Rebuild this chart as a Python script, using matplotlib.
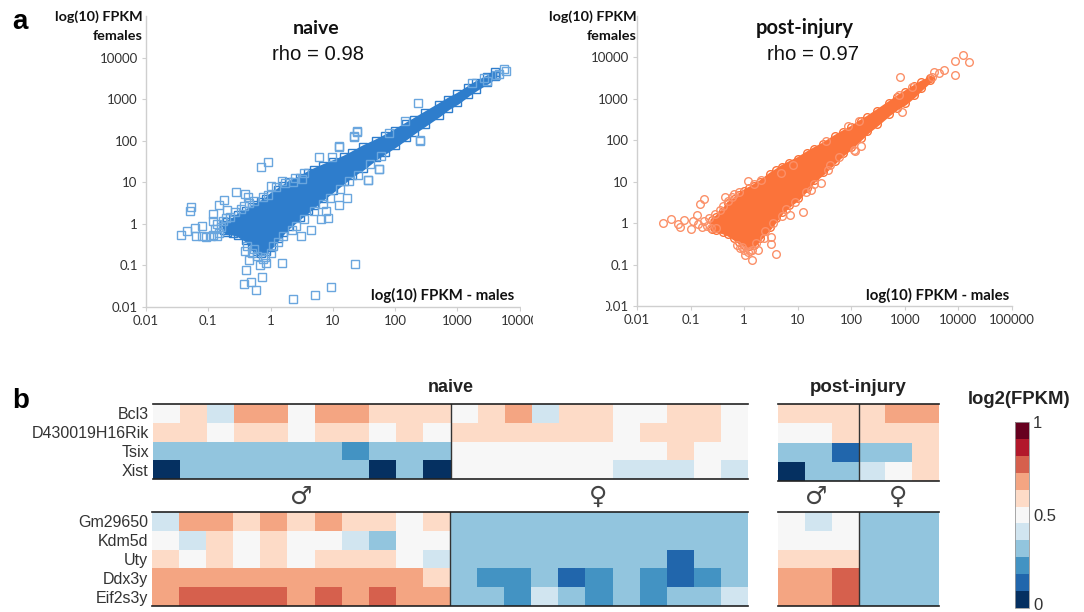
import numpy as np
import matplotlib
matplotlib.use('Agg')
import matplotlib.pyplot as plt
from matplotlib.colors import ListedColormap, Normalize
from matplotlib.cm import ScalarMappable
from matplotlib.patches import Rectangle

W, H = 1084, 612

# scatter a: dense cloud envelope (x, lower y, upper y)
naive_x = [0.18, 0.2, 0.25, 0.3, 0.4, 0.5, 0.6, 0.7, 0.85, 1, 1.3, 1.6, 2, 3, 4, 5, 7, 10, 15, 20, 30, 50, 70,
           100, 150, 200, 300, 500, 700, 1000, 1500, 2000, 3000, 4000]
naive_low = [0.70, 0.62, 0.60, 0.55, 0.42, 0.30, 0.22, 0.20, 0.22, 0.28, 0.45, 0.65, 0.9, 1.5, 2.1, 2.8, 4.3, 6.5,
             10.5, 15, 22, 40, 55, 78, 120, 165, 250, 420, 620, 850, 1350, 1800, 2600, 3600]
naive_high = [0.95, 1.1, 1.3, 1.6, 2.0, 2.5, 2.9, 3.3, 4, 5, 6.5, 8, 10, 13, 17, 20, 25, 31, 40, 50, 70, 100, 130,
              175, 250, 320, 460, 720, 980, 1300, 1900, 2500, 3400, 4400]
naive_out_x = [0.036, 0.045, 0.051, 0.052, 0.062, 0.063, 0.08, 0.08, 0.092, 0.118, 0.146, 0.18, 0.2, 0.28, 0.39,
               0.43, 0.70, 0.91, 1.0, 0.91, 1.5, 2.3, 3.2, 6.1, 9.6, 12.6, 22, 24.6, 0.39, 0.45, 0.41, 0.74, 0.48,
               0.38, 0.58, 2.25, 5.1, 9.3, 23, 1.5, 0.84, 0.68, 3.1, 4.4, 6.4, 8.3, 7.7, 12.7, 17, 36, 56, 247,
               231, 24, 21.6, 12.6, 143, 80, 56, 36, 251, 1740, 2640, 4150, 5600, 6000, 4650, 2960,
               0.11, 0.12, 0.13, 0.14, 0.15, 0.16, 0.17, 0.12, 0.14, 0.19, 0.22, 0.27, 0.33, 0.38, 0.45, 0.55, 0.75,
               1.2, 1.7, 2.5, 3.5, 1.1, 1.3, 1.6, 2.2, 2.6, 3.5, 5, 7, 9, 13, 18, 25, 40, 60, 0.42, 0.5, 0.6, 0.8,
               1, 0.55, 0.75]
naive_out_y = [0.53, 0.68, 2.0, 2.6, 0.79, 0.51, 0.9, 0.50, 0.48, 1.7, 2.9, 3.8, 2.2, 5.9, 5.2,
               4.5, 23.5, 31, 8.2, 5, 10.6, 10, 11.9, 40, 41, 71, 126, 166, 0.22, 0.136, 0.078, 0.053, 0.040,
               0.035, 0.026, 0.0158, 0.019, 0.031, 0.111, 0.115, 0.113, 0.103, 0.5, 0.73, 1.3, 1.37, 2, 2.8, 4.3,
               11.4, 20.6, 105, 794, 170, 127, 73, 292, 153, 21, 11.5, 100, 2450, 3230, 3890, 5370, 4680, 4100, 2680,
               0.5, 0.55, 0.75, 1.0, 0.6, 0.85, 1.2, 1.2, 0.5, 1.4, 1.5, 1.9, 2.3, 2.7, 3.2, 3.6, 4.5,
               7.5, 9.5, 13, 17, 0.3, 0.36, 0.5, 0.7, 0.9, 1.3, 2, 3, 4.2, 7, 11, 15, 28, 44, 0.3, 0.2, 0.17, 0.16,
               0.2, 0.25, 0.14]

inj_x = [0.25, 0.3, 0.4, 0.5, 0.65, 0.8, 1, 1.25, 1.5, 2, 3, 4, 5, 7, 10, 15, 20, 30, 50, 70, 100, 150, 200, 300,
         500, 700, 1000, 1500, 2000, 3000]
inj_low = [0.72, 0.68, 0.62, 0.55, 0.44, 0.36, 0.30, 0.28, 0.30, 0.45, 0.8, 1.3, 1.9, 2.8, 4, 7, 11, 17, 32, 48, 70,
           115, 165, 250, 440, 610, 800, 1250, 1800, 2900]
inj_high = [1.2, 1.4, 2.0, 3.0, 3.8, 4.8, 6, 7, 8, 10, 15, 19, 23, 29, 36, 50, 62, 82, 125, 160, 205, 290, 360, 510,
            800, 1080, 1450, 2000, 2500, 3200]
inj_out_x = [0.031, 0.043, 0.059, 0.064, 0.075, 0.102, 0.11, 0.13, 0.153, 0.177, 0.44, 0.65, 1.17, 2.1, 4.8, 8.2,
             1.39, 1.03, 1.29, 1.8, 4, 3.2, 3.2, 2.3, 0.92, 12.3, 27.7, 37, 112, 18, 7.1,
             813, 12300, 8700, 15500, 8700, 5400, 3470, 3160, 4270, 870, 776, 117, 151, 85, 138, 34, 1350,
             0.14, 0.16, 0.18, 0.2, 0.22, 0.24, 0.28, 0.3, 0.35, 0.4, 0.5, 0.6, 0.8, 1.5, 0.75, 0.85, 1, 1.2, 1.4,
             1.7, 2.5, 3.5, 5, 6, 9, 14, 20, 40, 60]
inj_out_y = [1.0, 1.25, 0.93, 0.79, 1.2, 0.73, 1.12, 1.6, 2.95, 3.8, 4.2, 5, 10.5, 10.9, 16.4, 26,
             0.131, 0.167, 0.21, 0.23, 0.183, 0.32, 0.47, 0.43, 0.27, 1.9, 9.2, 19, 58, 6.4, 1.6,
             3300, 11600, 8130, 7590, 3730, 4900, 4470, 3350, 4170, 490, 1260, 54, 73, 221, 292, 95, 1900,
             0.95, 0.8, 1.1, 0.85, 1.35, 0.75, 1.7, 0.75, 2.1, 2.6, 3.5, 4.3, 5.5, 9, 0.3, 0.25, 0.22, 0.2, 0.22,
             0.33, 0.65, 1, 1.5, 2.2, 3.3, 5.5, 9, 25, 40]

axis_ticks = [0.01, 0.1, 1, 10, 100, 1000, 10000, 100000]
axis_labels = ['0.01', '0.1', '1', '10', '100', '1000', '10000', '100000']

# heatmap b: colour level of each cell, 0 (navy) to 10 (dark red)
genes_top = ['Bcl3', 'D430019H16Rik', 'Tsix', 'Xist']
genes_bottom = ['Gm29650', 'Kdm5d', 'Uty', 'Ddx3y', 'Eif2s3y']

naive_top = [[5, 6, 4, 7, 7, 5, 7, 7, 6, 6, 6, 5, 6, 7, 4, 6, 6, 5, 5, 6, 6, 5],
             [6, 6, 5, 6, 6, 5, 6, 6, 5, 6, 5, 6, 6, 6, 6, 6, 6, 5, 6, 6, 6, 5],
             [3, 3, 3, 3, 3, 3, 3, 2, 3, 3, 3, 5, 5, 5, 5, 5, 5, 5, 5, 6, 5, 5],
             [0, 3, 3, 3, 3, 3, 3, 3, 0, 3, 0, 5, 5, 5, 5, 5, 5, 4, 4, 4, 5, 4]]
naive_bottom = [[4, 7, 7, 6, 7, 6, 7, 6, 6, 5, 6, 3, 3, 3, 3, 3, 3, 3, 3, 3, 3, 3],
                [5, 4, 6, 5, 6, 5, 5, 4, 3, 5, 5, 3, 3, 3, 3, 3, 3, 3, 3, 3, 3, 3],
                [6, 5, 6, 5, 6, 5, 6, 6, 6, 5, 4, 3, 3, 3, 3, 3, 3, 3, 3, 1, 3, 3],
                [7, 7, 7, 7, 7, 7, 7, 7, 7, 7, 6, 3, 2, 2, 3, 1, 2, 3, 2, 1, 2, 3],
                [7, 8, 8, 8, 8, 7, 8, 7, 8, 7, 7, 3, 3, 2, 4, 3, 2, 3, 2, 3, 3, 4]]
injury_top = [[6, 6, 6, 6, 7, 7],
              [5, 5, 6, 6, 6, 6],
              [3, 3, 1, 3, 3, 6],
              [0, 3, 3, 4, 5, 6]]
injury_bottom = [[5, 4, 5, 3, 3, 3],
                 [5, 5, 5, 3, 3, 3],
                 [6, 6, 6, 3, 3, 3],
                 [7, 7, 8, 3, 3, 3],
                 [7, 7, 8, 3, 3, 3]]

level_colors = ['#053061', '#2166ac', '#4393c3', '#92c5de', '#d1e5f0', '#f7f7f7',
                '#fddbc7', '#f4a582', '#d6604d', '#b2182b', '#67001f']


def px_axes(fig, left, top, right, bottom):
    return fig.add_axes([left / W, 1 - bottom / H, (right - left) / W, (bottom - top) / H])


def px_text(fig, x, y, s, **kw):
    kw.setdefault('va', 'center')
    fig.text(x / W, 1 - y / H, s, **kw)


def scatter_panel(fig, box, bx, low, high, ox, oy, color, edge, marker):
    ax = px_axes(fig, *box)
    ax.set_xscale('log')
    ax.set_yscale('log')
    ax.set_xlim(0.01, 100000)
    ax.set_ylim(0.01, 100000)
    ax.fill_between(bx, low, high, color=color, lw=3, zorder=2)
    ax.plot(bx, low, marker, mfc='none', mec=color, mew=1.0, ms=5.5, zorder=3)
    ax.plot(bx, high, marker, mfc='none', mec=color, mew=1.0, ms=5.5, zorder=3)
    ax.plot(ox, oy, marker, mfc='none', mec=edge, mew=1.0, ms=5.5, zorder=3, clip_on=False)
    ax.set_xticks(axis_ticks)
    ax.set_xticklabels(axis_labels)
    ax.set_yticks(axis_ticks[:-1])
    ax.set_yticklabels(axis_labels[:-1])
    ax.minorticks_off()
    ax.tick_params(length=3, width=0.8, color='#cfcfcf', labelsize=9.5, labelcolor='#333333', pad=3)
    for name in ['top', 'right']:
        ax.spines[name].set_visible(False)
    for name in ['left', 'bottom']:
        ax.spines[name].set_color('#cfcfcf')
        ax.spines[name].set_linewidth(1.0)
    return ax


def heat_block(fig, box, values, split, genes=None, label_x=None):
    ax = px_axes(fig, *box)
    ax.pcolormesh(np.array(values), cmap=ListedColormap(level_colors), vmin=-0.5, vmax=10.5)
    ax.invert_yaxis()
    ax.set_xticks([])
    if genes:
        ax.set_yticks(np.arange(len(genes)) + 0.5)
        ax.set_yticklabels(genes, fontsize=11.5, color='#333333')
        ax.tick_params(axis='y', length=0, pad=box[0] - label_x)
    else:
        ax.set_yticks([])
    for name in ['left', 'right']:
        ax.spines[name].set_visible(False)
    for name in ['top', 'bottom']:
        ax.spines[name].set_color('#222222')
        ax.spines[name].set_linewidth(1.2)
    ax.axvline(split, color='#333333', lw=1.0)
    return ax


if __name__ == "__main__":
    plt.rcParams['font.family'] = 'Liberation Sans'
    fig = plt.figure(figsize=(W / 100, H / 100), dpi=100)

    scatter_panel(fig, (146, 16, 457 + 125, 307), naive_x, naive_low, naive_high, naive_out_x, naive_out_y,
                  '#2e7dcc', '#6aa6de', 's')
    scatter_panel(fig, (637, 16, 1012, 306), inj_x, inj_low, inj_high, inj_out_x, inj_out_y,
                  '#fb733a', '#fb9068', 'o')
    for ax in fig.axes:
        for lab in ax.get_xticklabels() + ax.get_yticklabels():
            lab.set_family('Lato')

    # the first panel's axis stops at 10000 and its last labels are cut off
    fig.add_artist(Rectangle((521 / W, 1 - 312 / H), 16 / W, 12 / H, transform=fig.transFigure,
                             fc='white', ec='none', zorder=5))
    fig.add_artist(Rectangle((533 / W, 1 - 335 / H), 73 / W, 35 / H, transform=fig.transFigure,
                             fc='white', ec='none', zorder=5))

    lato = dict(family='Lato', fontweight='bold', color='#111111')
    px_text(fig, 143, 17, 'log(10) FPKM', ha='right', fontsize=10.4, zorder=6, **lato)
    px_text(fig, 143, 36, 'females', ha='right', fontsize=10.4, zorder=6, **lato)
    px_text(fig, 637, 17, 'log(10) FPKM', ha='right', fontsize=10.4, zorder=6, **lato)
    px_text(fig, 637, 36, 'females', ha='right', fontsize=10.4, zorder=6, **lato)
    px_text(fig, 443, 295, 'log(10) FPKM - males', ha='center', fontsize=10.8, **lato)
    px_text(fig, 938, 295, 'log(10) FPKM - males', ha='center', fontsize=10.8, **lato)
    px_text(fig, 316, 29, 'naive', ha='center', fontsize=14, **lato)
    px_text(fig, 805, 28, 'post-injury', ha='center', fontsize=14.5, **lato)
    px_text(fig, 318, 55, 'rho = 0.98', ha='center', fontsize=14.6, color='#111111')
    px_text(fig, 813, 55, 'rho = 0.97', ha='center', fontsize=14.6, color='#111111')
    px_text(fig, 12, 22, 'a', fontsize=20, fontweight='bold')
    px_text(fig, 12, 401, 'b', fontsize=20, fontweight='bold')

    heat_block(fig, (153, 404, 748, 479), naive_top, 11, genes_top, 150)
    heat_block(fig, (152, 512, 748, 606), naive_bottom, 11, genes_bottom, 149)
    heat_block(fig, (778, 404, 939, 481), injury_top, 3)
    heat_block(fig, (778, 512, 939, 606), injury_bottom, 3)

    px_text(fig, 451, 388, 'naive', ha='center', fontsize=13, fontweight='bold', color='#222222')
    px_text(fig, 858, 388, 'post-injury', ha='center', fontsize=13.5, fontweight='bold', color='#222222')
    for x, sym in [(301, '\u2642'), (598, '\u2640'), (816, '\u2642'), (898, '\u2640')]:
        px_text(fig, x, 497, sym, ha='center', fontsize=18, family='DejaVu Sans', color='#444444')

    # colour bar
    px_text(fig, 1019, 400, 'log2(FPKM)', ha='center', fontsize=13.3, fontweight='bold', color='#222222')
    cax = px_axes(fig, 1015, 422, 1029, 608)
    sm = ScalarMappable(norm=Normalize(-0.5, 10.5), cmap=ListedColormap(level_colors))
    cb = fig.colorbar(sm, cax=cax, boundaries=np.arange(-0.5, 11), values=np.arange(11))
    cb.set_ticks([-0.25, 5, 10.5], labels=['0', '0.5', '1'])
    cb.ax.tick_params(length=0, labelsize=12, labelcolor='#333333', pad=3)
    cb.outline.set_edgecolor('#999999')
    cb.outline.set_linewidth(0.6)

    fig.savefig('out.png', dpi=100)
